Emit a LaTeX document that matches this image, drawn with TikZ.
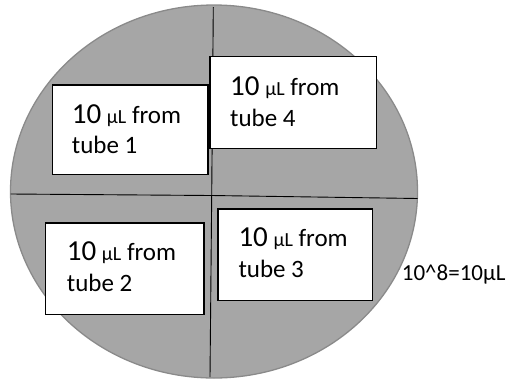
\documentclass[tikz,border=0pt]{standalone}
\usepackage{fontspec}
\setmainfont{Carlito}
\definecolor{plate}{HTML}{A6A6A6}
\definecolor{rim}{HTML}{8A8A8A}
\tikzset{
  box/.style={draw=black, fill=white, line width=1.3pt},
  divider/.style={draw=black, line width=0.9pt},
  txt/.style={anchor=base west, inner sep=0pt, font=\fontsize{25}{28}\selectfont},
  lbl/.style={anchor=base west, inner sep=0pt, font=\fontsize{23}{26}\selectfont},
}
\newcommand{\ten}{{\fontsize{29}{30}\selectfont 10}}
\newcommand{\mul}{{\fontsize{20}{22}\selectfont μL}}
\begin{document}
\begin{tikzpicture}[x=1pt,y=-1pt]
\useasboundingbox (0,0) rectangle (516,381);
\draw[fill=plate, draw=rim, line width=1.3pt] (214,191.5) ellipse [x radius=203.5pt, y radius=186.5pt];
% dividers
\coordinate (vt) at (213.3,7);
\coordinate (vm) at (211.7,195.5);
\coordinate (vb) at (210,377);
\coordinate (hl) at (10.7,194);
\coordinate (hr) at (417.7,198.5);
\draw[divider] (vt) -- (vm) -- (vb);
\draw[divider] (hl) -- (vm) -- (hr);
% boxes
\node[box, anchor=north west, minimum width=155.6pt, minimum height=89.7pt, inner sep=0pt] (b1) at (51.7,84.3) {};
\node[box, anchor=north west, minimum width=166.4pt, minimum height=92pt, inner sep=0pt] (b4) at (209.3,56) {};
\node[box, anchor=north west, minimum width=158.3pt, minimum height=91.7pt, inner sep=0pt] (b2) at (45,222.3) {};
\node[box, anchor=north west, minimum width=154.4pt, minimum height=91.7pt, inner sep=0pt] (b3) at (217.3,208.3) {};
% texts
\node[txt] (t1a) at (71.7,123.3) {\ten\ \mul\ from};
\node[txt] (t1b) at (71.7,153.3) {tube 1};
\node[txt] (t4a) at (230,95) {\ten\ \mul\ from};
\node[txt] (t4b) at (230,126) {tube 4};
\node[txt] (t2a) at (66.7,260.7) {\ten\ \mul\ from};
\node[txt] (t2b) at (66.7,291.7) {tube 2};
\node[txt] (t3a) at (238.3,246.7) {\ten\ \mul\ from};
\node[txt] (t3b) at (238.3,277.7) {tube 3};
\node[lbl] (lab) at (401.7,280) {10\^{}8=10μL};
\end{tikzpicture}
\end{document}
